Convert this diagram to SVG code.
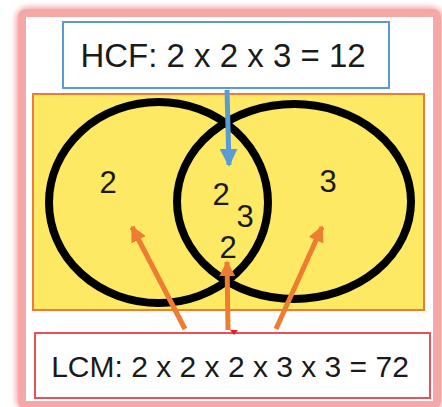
<svg xmlns="http://www.w3.org/2000/svg" width="442" height="407" viewBox="0 0 442 407">
<defs>
<filter id="glow" x="-10%" y="-10%" width="120%" height="120%"><feGaussianBlur stdDeviation="3"/></filter>
<marker id="ob" viewBox="0 0 10 10" refX="9" refY="5" markerWidth="16" markerHeight="16" markerUnits="userSpaceOnUse" orient="auto"><path d="M0,0 L10,5 L0,10 z" fill="#ed7d31"/></marker>
<marker id="bb" viewBox="0 0 10 10" refX="9" refY="5" markerWidth="18" markerHeight="18" markerUnits="userSpaceOnUse" orient="auto"><path d="M0,0 L10,5 L0,10 z" fill="#5b9bd5"/></marker>
</defs>
<style>
.lbl{font-family:"Liberation Sans",Arial,sans-serif;fill:#1a1a1a;text-anchor:middle}
.hcf{font-size:33px}
.lcm{font-size:30px}
.num{font-size:31px}
.ring{fill:none;stroke:#000;stroke-width:8}
.oa{stroke:#ed7d31;stroke-width:5;fill:none;marker-end:url(#ob)}
</style>
<rect width="442" height="407" fill="#fff"/>
<g id="frame">
<rect x="22" y="13" width="415" height="392" rx="6" fill="none" stroke="#f3a3a3" stroke-width="12" filter="url(#glow)"/>
<rect x="22" y="13" width="415" height="392" rx="4" fill="#fff" stroke="#f4a8a8" stroke-width="8"/>
</g>
<g id="venn">
<rect x="33" y="94" width="391" height="216" fill="#fde964" stroke="#f07a3a" stroke-width="2"/>
<ellipse class="ring" cx="158.5" cy="202.5" rx="109.5" ry="100.5"/>
<ellipse class="ring" cx="294" cy="201.5" rx="117" ry="97.5"/>
<text class="lbl num" x="108" y="193">2</text>
<text class="lbl num" x="328" y="192">3</text>
<text class="lbl num" x="221" y="205">2</text>
<text class="lbl num" x="245" y="227">3</text>
<text class="lbl num" x="228" y="258">2</text>
</g>
<g id="hcf">
<rect x="63" y="22" width="326" height="66" fill="#fff" stroke="#5b9bd5" stroke-width="2"/>
<text class="lbl hcf" x="223" y="67">HCF: 2 x 2 x 3 = 12</text>
</g>
<g id="lcm">
<rect x="35" y="333" width="395" height="65" fill="#fff" stroke="#e8505b" stroke-width="2"/>
<text class="lbl lcm" x="230" y="377">LCM: 2 x 2 x 2 x 3 x 3 = 72</text>
<path d="M230,330 L238,330 L234,335 z" fill="#e02020"/>
</g>
<g id="connectors">
<line x1="227" y1="90" x2="229" y2="165" stroke="#5b9bd5" stroke-width="5" marker-end="url(#bb)"/>
<line class="oa" x1="185" y1="329" x2="132" y2="227"/>
<line class="oa" x1="228" y1="330" x2="227" y2="262"/>
<line class="oa" x1="276" y1="329" x2="322" y2="227"/>
</g>
</svg>
